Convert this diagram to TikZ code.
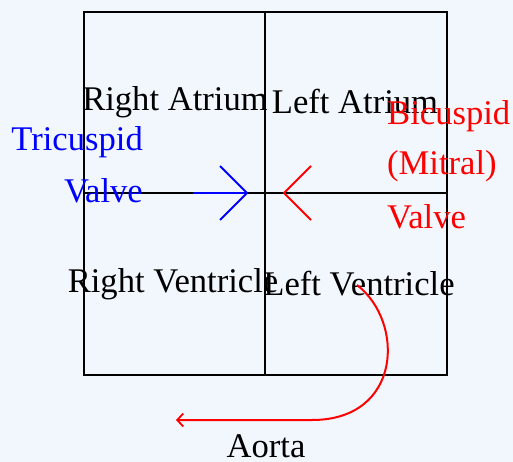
\documentclass[tikz,border=0pt]{standalone}
\usepackage{fontspec}
\setmainfont{Liberation Serif}
\usetikzlibrary{arrows.meta}
\definecolor{bgc}{HTML}{F2F7FE}
\begin{document}
\begin{tikzpicture}[x=1pt,y=-1pt,
  lbl/.style={inner sep=0pt, font=\fontsize{34.6}{40}\selectfont},
  wall/.style={draw=black, line width=2.2pt},
  valveline/.style={line width=2pt},
  flow/.style={draw=red, line width=2pt, -{Straight Barb[length=6pt,width=13pt,line width=1.8pt]}}]
\fill[bgc] (0,0) rectangle (513,462);
\useasboundingbox (0,0) rectangle (513,462);
% chambers
\coordinate (tl) at (84,12);
\coordinate (br) at (447,375);
\coordinate (vt) at (265,12);
\coordinate (vb) at (265,375);
\coordinate (hl) at (84,193);
\coordinate (hr) at (447,193);
\draw[wall] (tl) rectangle (br);
\draw[wall] (vt) -- (vb);
\draw[wall] (hl) -- (hr);
% labels
\node[lbl, anchor=base] (ra) at (175,111) {Right Atrium};
\node[lbl, anchor=base] (la) at (355,114) {Left Atrium};
\node[lbl, anchor=base] (rv) at (173,292) {Right Ventricle};
\node[lbl, anchor=base] (lv) at (359,295) {Left Ventricle};
\node[lbl, anchor=base] (ao) at (266,457) {Aorta};
\node[lbl, anchor=base east, text=blue] (tri1) at (143,151) {Tricuspid};
\node[lbl, anchor=base east, text=blue] (tri2) at (143,203) {Valve};
\node[lbl, anchor=base west, text=red] (bi1) at (387,125) {Bicuspid};
\node[lbl, anchor=base west, text=red] (bi2) at (387,175) {(Mitral)};
\node[lbl, anchor=base west, text=red] (bi3) at (387,228) {Valve};
% tricuspid valve
\coordinate (bs) at (193,193);
\coordinate (bt) at (247,193);
\coordinate (bu) at (220,166);
\coordinate (bd) at (220,220);
\draw[blue, valveline] (bs) -- (bt);
\draw[blue, valveline, line join=miter] (bu) -- (bt) -- (bd);
% bicuspid valve
\coordinate (rt) at (284,193);
\coordinate (ru) at (311,166);
\coordinate (rd) at (311,220);
\draw[red, valveline, line join=miter] (ru) -- (rt) -- (rd);
% aorta flow
\coordinate (fs) at (357,285);
\coordinate (fm) at (312,420);
\coordinate (fe) at (176,420);
\draw[flow] (fs) .. controls (405,322) and (402,420) .. (fm) -- (fe);
\end{tikzpicture}
\end{document}
